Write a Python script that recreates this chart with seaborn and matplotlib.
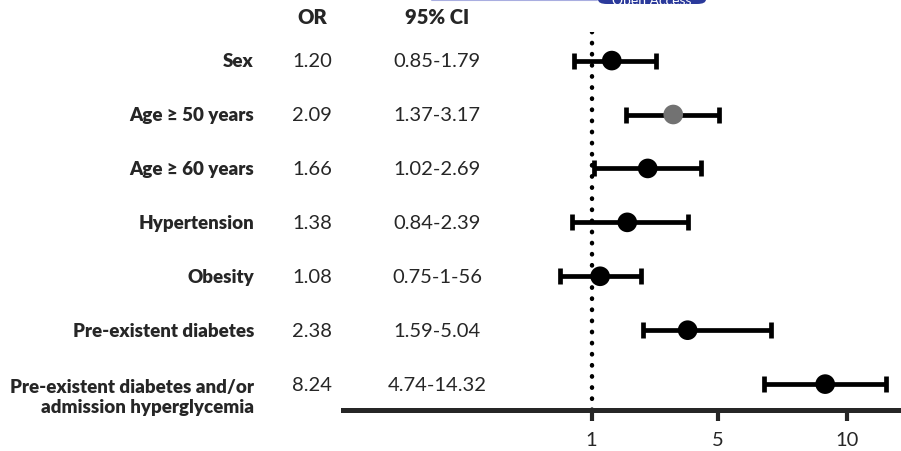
"""
Forest plot of odds ratios with 95% confidence intervals.
"""

import matplotlib
matplotlib.use("Agg")
import matplotlib.pyplot as plt
import matplotlib.transforms as mtransforms
from matplotlib.patches import FancyBboxPatch
import pandas as pd
import seaborn as sns

# data
labels = [
    "Sex",
    "Age \u2265 50 years",
    "Age \u2265 60 years",
    "Hypertension",
    "Obesity",
    "Pre-existent diabetes",
    "Pre-existent diabetes and/or\nadmission hyperglycemia",
]
odds_ratio = [1.20, 2.09, 1.66, 1.38, 1.08, 2.38, 8.24]
ci_low = [0.85, 1.37, 1.02, 0.84, 0.75, 1.59, 4.74]
ci_high = [1.79, 3.17, 2.69, 2.39, 1.56, 5.04, 14.32]
or_text = ["1.20", "2.09", "1.66", "1.38", "1.08", "2.38", "8.24"]
ci_text = ["0.85-1.79", "1.37-3.17", "1.02-2.69", "0.84-2.39",
           "0.75-1-56", "1.59-5.04", "4.74-14.32"]
tick_values = [1, 3.13, 10]
tick_labels = ["1", "5", "10"]

df = pd.DataFrame({
    "label": labels,
    "OR": odds_ratio,
    "low": ci_low,
    "high": ci_high,
    "row": range(len(labels)),
})
df["shade"] = ["grey" if i == 1 else "black" for i in range(len(df))]

sns.set_style("white")
plt.rcParams["font.family"] = ["Lato", "DejaVu Sans"]

W, H = 901, 452
fig = plt.figure(figsize=(W / 100, H / 100), dpi=100)
ax = fig.add_axes([343 / W, 1 - 411 / H, (898 - 343) / W, (411 - 33) / H])

# confidence intervals
ax.errorbar(
    df["OR"], df["row"],
    xerr=[df["OR"] - df["low"], df["high"] - df["OR"]],
    fmt="none", ecolor="black", elinewidth=3.4,
    capsize=6, capthick=3.4, zorder=2,
)

# point estimates
sns.scatterplot(
    data=df, x="OR", y="row", hue="shade",
    palette={"black": "black", "grey": "#727272"},
    s=200, edgecolor="none", legend=False, ax=ax, zorder=3,
)

# reference line at OR = 1
ax.axvline(1, color="black", linewidth=3.2,
           linestyle=(0, (0.1, 2.4)), dash_capstyle="round", zorder=1)

ax.set_xscale("log")
ax.set_xlim(0.106, 15.9)
ax.set_ylim(6.48, -0.53)

ax.set_xticks(tick_values)
ax.set_xticklabels(tick_labels)
ax.xaxis.set_minor_locator(plt.NullLocator())
ax.tick_params(axis="x", direction="out", length=8, width=3,
               labelsize=14.5, pad=7, bottom=True)
ax.set_yticks([])
ax.set_xlabel("")
ax.set_ylabel("")

for side in ["top", "right", "left"]:
    ax.spines[side].set_visible(False)
ax.spines["bottom"].set_linewidth(3.6)

# text columns
trans = mtransforms.blended_transform_factory(fig.transFigure, ax.transData)
for i, (lab, o, c) in enumerate(zip(labels, or_text, ci_text)):
    y_lab = i + (0.23 if "\n" in lab else 0)
    ax.text(254 / W, y_lab, lab, transform=trans, ha="right", va="center",
            fontsize=13.5, fontweight="heavy", linespacing=1.2)
    ax.text(312 / W, i, o, transform=trans, ha="center", va="center",
            fontsize=14.5)
    ax.text(437 / W, i, c, transform=trans, ha="center", va="center",
            fontsize=14.5)

fig.text(312 / W, 1 - 18 / H, "OR", ha="center", va="center",
         fontsize=14.5, fontweight="heavy")
fig.text(437 / W, 1 - 18 / H, "95% CI", ha="center", va="center",
         fontsize=14.5, fontweight="heavy")

# cropped journal banner at the top edge
fig.add_artist(plt.Line2D([432 / W, 597 / W], [1 - 1 / H, 1 - 1 / H],
                          transform=fig.transFigure, color="#a9aee0",
                          linewidth=1.5))
fig.add_artist(FancyBboxPatch(
    (598 / W, 1 - 5 / H), 108 / W, 20 / H,
    boxstyle="round,pad=0,rounding_size=0.01",
    transform=fig.transFigure, facecolor="#2b3a9b", edgecolor="none",
))
fig.text(652 / W, 1 - 1 / H, "Open Access", ha="center", va="center",
         color="white", fontsize=10)

fig.savefig("out.png", dpi=100)
plt.close(fig)
